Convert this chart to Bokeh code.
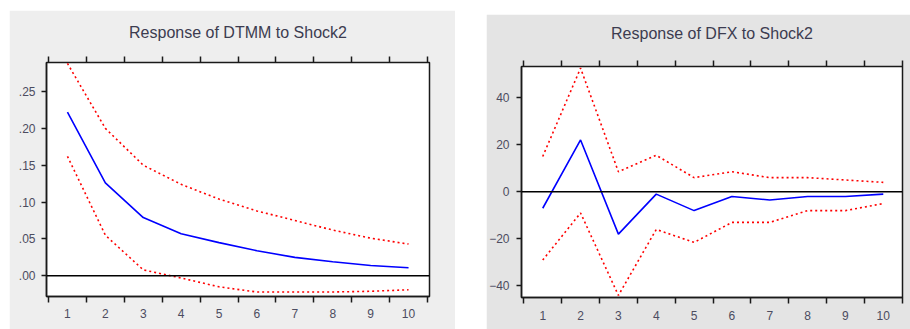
from bokeh.plotting import figure
from bokeh.layouts import row, column
from bokeh.models import Spacer, FixedTicker, Span, Range1d, LinearAxis
from bokeh.embed import file_html
from bokeh.resources import INLINE

periods = [1, 2, 3, 4, 5, 6, 7, 8, 9, 10]
dtmm_resp = [0.222, 0.126, 0.079, 0.057, 0.045, 0.034, 0.025, 0.019, 0.014, 0.011]
dtmm_upper = [0.288, 0.200, 0.150, 0.124, 0.104, 0.088, 0.075, 0.062, 0.051, 0.043]
dtmm_lower = [0.162, 0.055, 0.008, -0.003, -0.015, -0.022, -0.022, -0.022, -0.021, -0.019]

dfx_resp = [-7, 22, -18, -1, -8, -2, -3.5, -2, -2, -1]
dfx_upper = [15, 52.5, 8.5, 15.5, 6, 8.5, 6, 6, 5, 4]
dfx_lower = [-29, -9, -44, -16, -21.5, -13, -13, -8, -8, -5]

dtmm_yticks = [0.0, 0.05, 0.1, 0.15, 0.2, 0.25]
dtmm_ylabels = [".00", ".05", ".10", ".15", ".20", ".25"]
dfx_yticks = [-40, -20, 0, 20, 40]

x_bounds = [0.5 + i for i in range(11)]


def make_panel(title, resp, upper, lower, xr, yr, yticks, ylabels, width, height,
               bl, br, bt, bb, fill, ystand, xstand, tstand):
    p = figure(width=width, height=height, output_backend="svg", toolbar_location=None,
               x_range=Range1d(*xr), y_range=Range1d(*yr),
               min_border_left=bl, min_border_right=br, min_border_top=bt,
               min_border_bottom=bb, border_fill_color=fill, background_fill_color="white")
    p.outline_line_color = "#1a1a1a"
    p.outline_line_width = 1.5
    p.xgrid.visible = False
    p.ygrid.visible = False

    # chart title, drawn as the label of an otherwise empty top axis
    top = LinearAxis(ticker=FixedTicker(ticks=[], minor_ticks=[]), axis_label=title,
                     axis_line_color=None, major_tick_line_color=None,
                     minor_tick_line_color=None, major_label_text_color=None,
                     axis_label_standoff=tstand, axis_label_text_font="Liberation Sans",
                     axis_label_text_font_size="16px", axis_label_text_font_style="normal",
                     axis_label_text_color="#3c3c50")
    p.add_layout(top, "above")

    p.xaxis.ticker = FixedTicker(ticks=periods, minor_ticks=x_bounds)
    p.xaxis.major_tick_out = 0
    p.xaxis.major_tick_in = 0
    p.xaxis.minor_tick_out = 6
    p.xaxis.minor_tick_in = 0
    p.xaxis.minor_tick_line_color = "#1a1a1a"
    p.xaxis.minor_tick_line_width = 1.5
    p.xaxis.major_label_standoff = xstand

    p.yaxis.ticker = FixedTicker(ticks=yticks)
    p.yaxis.minor_tick_line_color = None
    p.yaxis.major_tick_out = 5
    p.yaxis.major_tick_in = 0
    p.yaxis.major_tick_line_width = 1.5
    p.yaxis.major_tick_line_color = "#1a1a1a"
    p.yaxis.major_label_standoff = ystand
    if ylabels is not None:
        p.yaxis.major_label_overrides = {t: l for t, l in zip(yticks, ylabels)}

    for ax in (p.below[0], p.left[0]):
        ax.axis_line_color = "#1a1a1a"
        ax.axis_line_width = 1.5
        ax.major_label_text_font = "Liberation Sans"
        ax.major_label_text_font_size = "12px"
        ax.major_label_text_color = "#4c4c60"

    p.add_layout(Span(location=0, dimension="width", line_color="black", line_width=1.5))
    p.line(periods, upper, line_color="#ff0000", line_width=1.6, line_dash="2 3")
    p.line(periods, lower, line_color="#ff0000", line_width=1.6, line_dash="2 3")
    p.line(periods, resp, line_color="#0000ff", line_width=1.6)
    return p


p1 = make_panel("Response of DTMM to Shock2", dtmm_resp, dtmm_upper, dtmm_lower,
                (0.447, 10.553), (-0.0281, 0.2893), dtmm_yticks, dtmm_ylabels,
                446, 319, 37, 26, 52, 33, "#eeeeee", 6, 6, 16)
p2 = make_panel("Response of DFX to Shock2", dfx_resp, dfx_upper, dfx_lower,
                (0.439, 10.508), (-44.9, 53.2), dfx_yticks, None,
                424, 315, 35, 8, 52, 32, "#e4e4e4", 7, 7, 19)

layout = row(Spacer(width=9),
             column(Spacer(height=10), p1),
             Spacer(width=31),
             column(Spacer(height=14), p2))

open("out.html", "w").write(file_html(layout, INLINE))
